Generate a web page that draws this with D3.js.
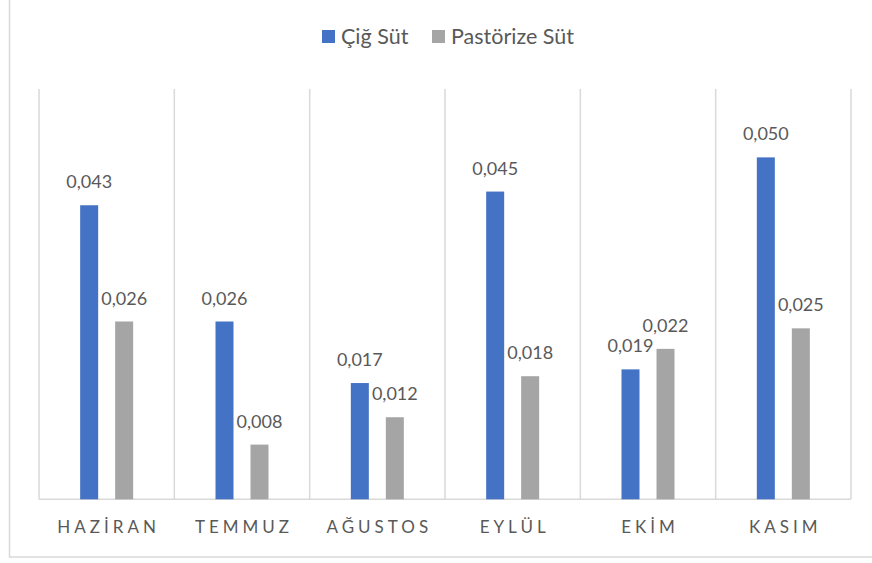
<!DOCTYPE html>
<html>
<head>
<meta charset="utf-8">
<script src="https://cdn.jsdelivr.net/npm/d3@7"></script>
<style>
  body { margin: 0; background: #fff; }
  svg { display: block; font-family: Lato, "Open Sans", sans-serif; }
</style>
</head>
<body>
<div id="chart"></div>
<script>
var months = ["HAZİRAN", "TEMMUZ", "AĞUSTOS", "EYLÜL", "EKİM", "KASIM"];
var seriesNames = ["Çiğ Süt", "Pastörize Süt"];
var cigSut = [0.043, 0.026, 0.017, 0.045, 0.019, 0.050];
var pastorizeSut = [0.026, 0.008, 0.012, 0.018, 0.022, 0.025];
var colors = ["#4472C4", "#A5A5A5"];

var w = 872, h = 563;
var textColor = "#595959";
var gridColor = "#d9d9d9";

var svg = d3.select("#chart").append("svg")
    .attr("width", w)
    .attr("height", h);

// outer chart border (top and right run off the picture)
svg.append("rect")
    .attr("x", 9.5).attr("y", -5)
    .attr("width", w + 20).attr("height", 562)
    .attr("fill", "none")
    .attr("stroke", gridColor)
    .attr("stroke-width", 1.5);

var plotLeft = 39, plotRight = 851, plotTop = 89, plotBottom = 499.3;

var x0 = d3.scaleBand()
    .domain(months)
    .range([plotLeft, plotRight])
    .paddingInner(0);

var bw = x0.bandwidth();
var x1 = d3.scaleBand()
    .domain(seriesNames)
    .range([bw / 2 - 26.5, bw / 2 + 26.5])
    .paddingInner(17 / 35);

var y = d3.scaleLinear()
    .domain([0, 0.06])
    .range([plotBottom, plotTop]);

var fmt = d3.formatLocale({ decimal: ",", thousands: ".", grouping: [3], currency: ["", ""] }).format(".3f");

// vertical category gridlines
var gridX = months.map(function (m) { return x0(m); }).concat([plotRight]);
svg.append("g").selectAll("line")
    .data(gridX)
    .enter()
    .append("line")
    .attr("x1", function (d) { return d; })
    .attr("x2", function (d) { return d; })
    .attr("y1", plotTop)
    .attr("y2", plotBottom)
    .attr("stroke", gridColor)
    .attr("stroke-width", 1.5);

// baseline
svg.append("line")
    .attr("x1", plotLeft).attr("x2", plotRight)
    .attr("y1", plotBottom).attr("y2", plotBottom)
    .attr("stroke", gridColor)
    .attr("stroke-width", 1.5);

var rows = months.map(function (m, i) {
    return { month: m, values: [cigSut[i], pastorizeSut[i]] };
});

var groups = svg.selectAll("g.cat")
    .data(rows)
    .enter()
    .append("g")
    .attr("class", "cat")
    .attr("transform", function (d) { return "translate(" + x0(d.month) + ",0)"; });

groups.selectAll("rect")
    .data(function (d) {
        return d.values.map(function (v, j) { return { name: seriesNames[j], value: v, j: j }; });
    })
    .enter()
    .append("rect")
    .attr("x", function (d) { return x1(d.name); })
    .attr("y", function (d) { return y(d.value); })
    .attr("width", x1.bandwidth())
    .attr("height", function (d) { return plotBottom - y(d.value); })
    .attr("fill", function (d) { return colors[d.j]; });

groups.selectAll("text")
    .data(function (d) {
        return d.values.map(function (v, j) { return { name: seriesNames[j], value: v }; });
    })
    .enter()
    .append("text")
    .attr("x", function (d) { return x1(d.name) + x1.bandwidth() / 2; })
    .attr("y", function (d) { return y(d.value) - 17; })
    .attr("text-anchor", "middle")
    .attr("font-size", 18)
    .attr("fill", textColor)
    .text(function (d) { return fmt(d.value); });

// category labels
svg.append("g").selectAll("text")
    .data(months)
    .enter()
    .append("text")
    .attr("x", function (d) { return x0(d) + bw / 2 + 2; })
    .attr("y", 533)
    .attr("text-anchor", "middle")
    .attr("font-size", 17)
    .attr("letter-spacing", "4px")
    .attr("fill", textColor)
    .text(function (d) { return d; });

// legend
var legendX = [322, 432];
var legend = svg.append("g").selectAll("g")
    .data(seriesNames)
    .enter()
    .append("g")
    .attr("transform", function (d, i) { return "translate(" + legendX[i] + ",30)"; });

legend.append("rect")
    .attr("width", 13).attr("height", 13)
    .attr("fill", function (d, i) { return colors[i]; });

legend.append("text")
    .attr("x", 19)
    .attr("y", 13.5)
    .attr("font-size", 21.5)
    .attr("fill", textColor)
    .text(function (d) { return d; });
</script>
</body>
</html>
